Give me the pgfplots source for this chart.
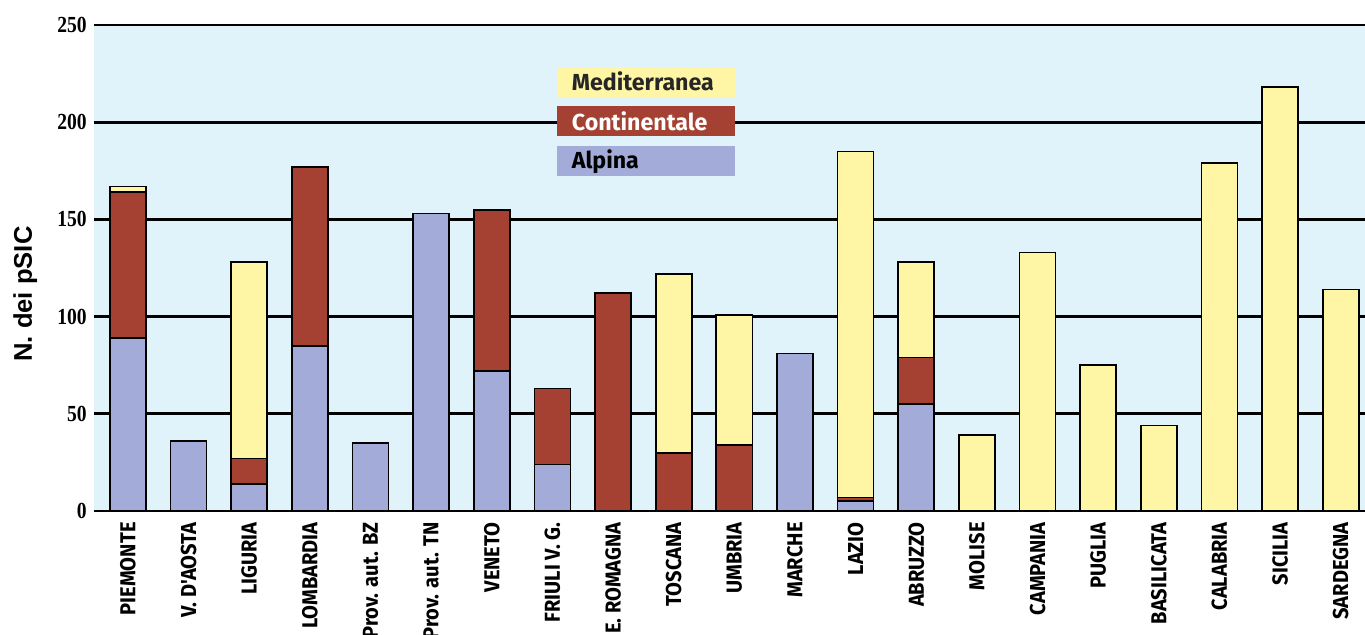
\documentclass[border=0pt]{standalone}
\usepackage{fontspec}
\setmainfont{Fira Sans}
\newfontfamily\xlabfont[FakeStretch=0.93]{Fira Sans}
\newfontfamily\ytickfont[FakeStretch=0.85]{Liberation Serif}
\newfontfamily\ylabfont{Liberation Sans}
\usepackage{pgfplots}
\pgfplotsset{compat=1.18}
\usetikzlibrary{calc}
\definecolor{alpcol}{HTML}{A3ACD8}
\definecolor{concol}{HTML}{A54132}
\definecolor{medcol}{HTML}{FFF6A5}
\definecolor{bgblue}{HTML}{E0F2FA}
\begin{document}
\begin{tikzpicture}
\begin{axis}[name=ax,
  scale only axis, width=635.5pt, height=243pt,
  xmin=-0.56, xmax=20.4, ymin=0, ymax=250,
  ybar stacked, bar width=0.594,
  xtick={0,...,20},
  xticklabels={PIEMONTE,V. D'AOSTA,LIGURIA,LOMBARDIA,Prov. aut. BZ,Prov. aut. TN,VENETO,FRIULI V. G.,E. ROMAGNA,TOSCANA,UMBRIA,MARCHE,LAZIO,ABRUZZO,MOLISE,CAMPANIA,PUGLIA,BASILICATA,CALABRIA,SICILIA,SARDEGNA},
  ytick={0,50,...,250},
  axis line style={draw=none},
  major tick length=0pt,
  ymajorgrids, grid style={black, line width=1.35pt},
  axis background/.style={fill=bgblue},
  xticklabel style={yshift=-5.5pt, rotate=90, anchor=east, inner sep=0pt,
    font=\xlabfont\bfseries\fontsize{10.8}{10.8}\selectfont},
  yticklabel style={inner sep=0pt, xshift=-3.5pt,
    font=\ytickfont\bfseries\fontsize{11.5}{11.5}\selectfont},
  /pgf/number format/assume math mode=true,
  every axis y label/.style={at={(rel axis cs:0,0.4465)}, xshift=-40.5pt, rotate=90, anchor=north, inner sep=0pt,
    font=\ylabfont\bfseries\fontsize{12.8}{12.8}\selectfont},
  ylabel={N. dei pSIC},
  every axis plot/.append style={draw=black, line width=0.85pt},
]
% Alpina
\addplot[fill=alpcol] coordinates {(0,89) (1,36) (2,14) (3,85) (4,35) (5,153) (6,72) (7,24) (8,0) (9,0) (10,0) (11,81) (12,5) (13,55) (14,0) (15,0) (16,0) (17,0) (18,0) (19,0) (20,0)};
% Continentale
\addplot[fill=concol] coordinates {(0,75) (1,0) (2,13) (3,92) (4,0) (5,0) (6,83) (7,39) (8,112) (9,30) (10,34) (11,0) (12,2) (13,24) (14,0) (15,0) (16,0) (17,0) (18,0) (19,0) (20,0)};
% Mediterranea
\addplot[fill=medcol] coordinates {(0,3) (1,0) (2,101) (3,0) (4,0) (5,0) (6,0) (7,0) (8,0) (9,92) (10,67) (11,0) (12,178) (13,49) (14,39) (15,133) (16,75) (17,44) (18,179) (19,218) (20,114)};
% legend boxes
\node[anchor=west, fill=medcol, minimum height=15pt, text width=74.2pt, inner xsep=7.4pt, inner ysep=0pt, align=left, text=black!85, font=\bfseries\fontsize{11.6}{11.6}\selectfont] at (axis cs:7.07,220.8) {Mediterranea};
\node[anchor=west, fill=concol, minimum height=15pt, text width=74.2pt, inner xsep=7.4pt, inner ysep=0pt, align=left, text=white, font=\bfseries\fontsize{11.6}{11.6}\selectfont] at (axis cs:7.07,200.4) {Continentale};
\node[anchor=west, fill=alpcol, minimum height=15pt, text width=74.2pt, inner xsep=7.4pt, inner ysep=0pt, align=left, text=black, font=\bfseries\fontsize{11.6}{11.6}\selectfont] at (axis cs:7.07,179.9) {Alpina};
\end{axis}
\pgfresetboundingbox
\path[use as bounding box] ($(ax.south west)+(-47pt,-61.5pt)$) rectangle ($(ax.north east)+(0,12.5pt)$);
\end{tikzpicture}
\end{document}
